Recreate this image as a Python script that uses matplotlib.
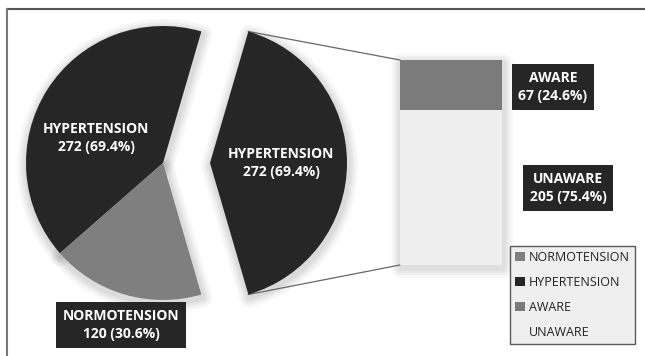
import matplotlib
matplotlib.use("Agg")
from matplotlib import pyplot as plt
from matplotlib.patches import Patch, Wedge, Rectangle
from matplotlib.lines import Line2D
import numpy as np

# data
pie_labels = ['HYPERTENSION', 'HYPERTENSION', 'NORMOTENSION']   # first one is the split-off slice
pie_values = [272, 272, 120]
pie_colors = ['#262626', '#262626', '#7f7f7f']
bar_labels = ['UNAWARE', 'AWARE']
bar_values = [205, 67]
bar_colors = ['#eeeeee', '#7b7b7b']
legend_labels = ['NORMOTENSION', 'HYPERTENSION', 'AWARE', 'UNAWARE']
legend_colors = ['#7f7f7f', '#262626', '#7b7b7b', '#eeeeee']

W, H = 645, 356
fig = plt.figure(figsize=(W / 100, H / 100), dpi=100)
ax = fig.add_axes([0, 0, 1, 1])

# pie (pixel units); explode is an absolute offset here
cx, cy, r = 163, 193, 137
start = -360 * pie_values[0] / sum(pie_values) / 2
wedges, _ = ax.pie(pie_values, colors=pie_colors, radius=r, center=(cx, cy),
                   startangle=start, counterclock=True,
                   explode=[47, 0, 0], frame=True,
                   wedgeprops=dict(linewidth=0, zorder=3))
ax.set_xlim(0, W)
ax.set_ylim(0, H)
ax.set_aspect('equal')
ax.axis('off')

# stacked bar: full height = the split slice
bx, bw, by, bh = 451, 102, 91, 205
scale = bh / sum(bar_values)
bottom = by
bars = []
for v, c in zip(bar_values, bar_colors):
    bars += ax.bar(bx, v * scale, width=bw, bottom=bottom, color=c, linewidth=0, zorder=3)
    bottom += v * scale

# soft shadows
for lw in [14, 10, 7, 4]:
    for w in wedges:
        x0, y0 = w.center
        ax.add_patch(Wedge((x0 + 1, y0 - 3), w.r, w.theta1, w.theta2, facecolor='none',
                           edgecolor='k', lw=lw, alpha=0.035, zorder=1, joinstyle='round'))
    ax.add_patch(Rectangle((bx - bw / 2 + 1, by - 3), bw, bh, facecolor='none',
                           edgecolor='k', lw=lw, alpha=0.03, zorder=1, joinstyle='round'))

# connector lines
w0 = wedges[0]
ox, oy = w0.center
for ang, yb in [(w0.theta2, by + bh), (w0.theta1, by)]:
    px = ox + r * np.cos(np.radians(ang))
    py = oy + r * np.sin(np.radians(ang))
    ax.plot([px, bx - bw / 2], [py, yb], color='#666666', lw=0.9, zorder=2)

# labels
box = dict(boxstyle='square,pad=0.45', facecolor='#262626', edgecolor='none')
tk = dict(color='white', fontweight='bold', fontsize=10, family=['Open Sans', 'DejaVu Sans'],
          ha='center', va='center', linespacing=1.45, bbox=box, zorder=5)
tot = pie_values[1] + pie_values[2]
ax.text(96, 218, f'{pie_labels[1]}\n{pie_values[1]} ({pie_values[1]/tot*100:.1f}%)', **tk)
ax.text(281, 193, f'{pie_labels[0]}\n{pie_values[0]} ({pie_values[0]/tot*100:.1f}%)', **tk)
ax.text(121, 31, f'{pie_labels[2]}\n{pie_values[2]} ({pie_values[2]/tot*100:.1f}%)', **tk)
bt = sum(bar_values)
ax.text(553, 269, f'{bar_labels[1]}\n{bar_values[1]} ({bar_values[1]/bt*100:.1f}%)', **tk)
ax.text(568, 168, f'{bar_labels[0]}\n{bar_values[0]} ({bar_values[0]/bt*100:.1f}%)', **tk)

# legend
handles = [Patch(facecolor=c, edgecolor='none') for c in legend_colors]
leg = fig.legend(handles, legend_labels, loc='center',
                 bbox_to_anchor=(508 / W, 11 / H, 129 / W, 100 / H),
                 prop=dict(family=['Open Sans', 'DejaVu Sans'], size=9),
                 labelcolor='#222222', frameon=True, fancybox=False,
                 handlelength=0.75, handleheight=0.75, handletextpad=0.3,
                 labelspacing=0.95, borderpad=0.45, borderaxespad=0)
leg.get_frame().set_facecolor('#ececec')
leg.get_frame().set_edgecolor('#333333')
leg.get_frame().set_linewidth(1.0)

# outer frame (top and left)
fig.add_artist(Line2D([7 / W, 1], [1 - 9 / H, 1 - 9 / H], color='#555555', lw=1.5))
fig.add_artist(Line2D([7 / W, 7 / W], [0, 1 - 9 / H], color='#777777', lw=1.5))

fig.savefig('out.png', dpi=100)
